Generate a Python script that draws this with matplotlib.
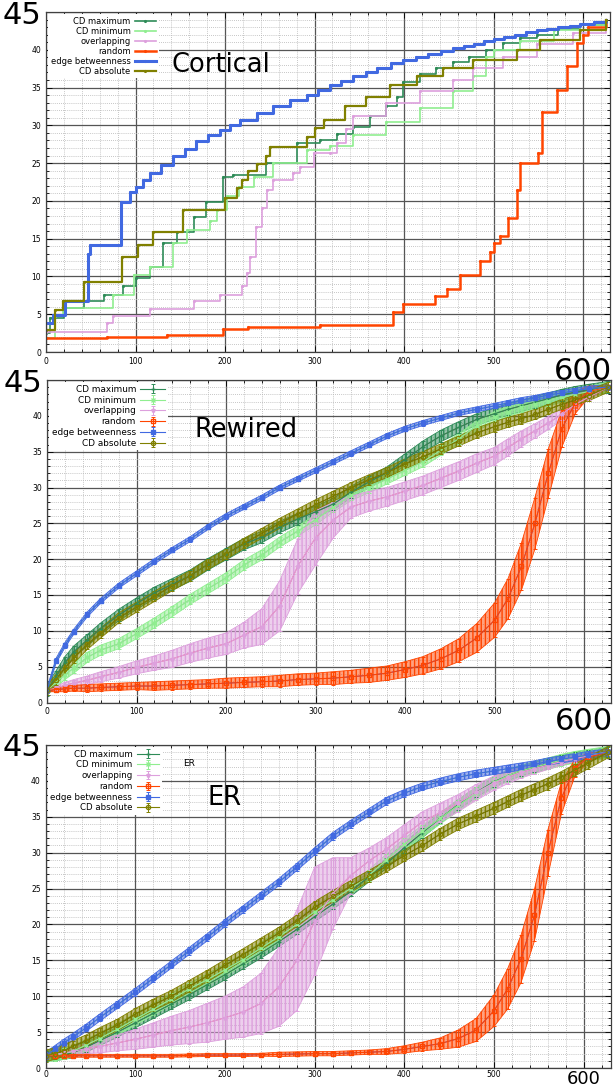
import numpy as np
import matplotlib
matplotlib.use("Agg")
import matplotlib.pyplot as plt
from matplotlib.ticker import MultipleLocator

plt.rcParams['font.family'] = ['DejaVu Sans']

labels = ['CD maximum', 'CD minimum', 'overlapping', 'random', 'edge betweenness', 'CD absolute']
colors = ['#2e8b57', '#90ee90', '#dda0dd', '#ff4500', '#4169e1', '#808000']
inner_colors = ['#8b3a3a', '#a0a0a0', '#ff3050', '#3040ff', '#40c080', '#202000']
markers = ['+', 'x', '*', 's', 's', 'o']
marker_faces = [None, None, None, 'none', '#4169e1', 'none']

# ---------------- Cortical (step curves) ----------------
cort_max_x = [0, 5, 20, 42, 65, 86, 101, 116, 131, 146, 165, 179, 198, 209, 246, 280, 306, 325, 343, 362, 380, 392, 399, 418, 436, 455, 473, 492, 511, 529, 548, 572, 597, 626]
cort_max_y = [2.5, 4.5, 5.8, 6.7, 7.5, 8.7, 9.8, 11.3, 14.4, 15.9, 17.9, 19.9, 23.2, 23.4, 25.0, 27.6, 28.0, 28.9, 29.8, 31.2, 32.5, 33.8, 35.8, 36.8, 37.6, 38.4, 39.1, 40.0, 40.9, 41.5, 42.0, 42.7, 43.3, 44.0]
cort_min_x = [0, 10, 19, 75, 98, 116, 142, 157, 183, 191, 202, 216, 232, 254, 291, 317, 343, 380, 418, 455, 477, 492, 500, 529, 567, 597, 626]
cort_min_y = [1.8, 4.7, 5.8, 7.5, 10.2, 11.3, 14.4, 16.2, 17.3, 18.8, 20.6, 21.8, 23.2, 25.0, 26.8, 27.2, 28.7, 30.5, 32.3, 34.5, 36.5, 39.1, 40.0, 41.1, 42.6, 43.3, 44.0]
cort_ovl_x = [0, 68, 75, 116, 165, 194, 219, 224, 228, 235, 241, 247, 254, 276, 284, 299, 317, 325, 335, 343, 380, 418, 455, 477, 511, 548, 589, 626]
cort_ovl_y = [2.7, 3.8, 4.8, 5.7, 6.7, 7.5, 8.7, 10.5, 12.6, 16.6, 19.0, 21.5, 22.8, 23.7, 24.5, 26.3, 26.3, 27.6, 29.5, 31.2, 32.9, 34.5, 36.0, 37.6, 39.1, 40.7, 42.2, 44.0]
cort_rnd_x = [0, 68, 135, 198, 226, 306, 388, 399, 434, 448, 463, 485, 496, 500, 507, 516, 526, 529, 550, 554, 571, 582, 593, 600, 605, 626]
cort_rnd_y = [1.8, 2.0, 2.2, 3.0, 3.3, 3.6, 5.3, 6.4, 7.4, 8.4, 10.2, 12.0, 13.3, 14.4, 15.3, 17.7, 21.5, 25.0, 26.4, 31.8, 34.7, 37.8, 40.9, 42.0, 43.0, 44.0]
cort_eb_x = [0, 8, 21, 47, 49, 84, 94, 101, 108, 116, 129, 142, 155, 168, 181, 194, 205, 217, 236, 254, 272, 291, 304, 317, 330, 343, 357, 370, 385, 399, 413, 427, 441, 455, 467, 478, 489, 500, 512, 524, 536, 548, 560, 572, 585, 597, 612, 626]
cort_eb_y = [3.8, 4.9, 6.7, 13.0, 14.2, 19.8, 21.2, 21.9, 22.8, 23.7, 24.8, 25.9, 26.9, 27.9, 28.7, 29.4, 30.1, 30.7, 31.6, 32.5, 33.3, 34.0, 34.7, 35.3, 35.9, 36.5, 37.0, 37.6, 38.2, 38.7, 39.1, 39.5, 39.9, 40.2, 40.5, 40.8, 41.1, 41.4, 41.7, 42.0, 42.3, 42.6, 42.8, 43.0, 43.2, 43.4, 43.7, 44.0]
cort_abs_x = [0, 10, 19, 42, 85, 103, 120, 153, 200, 213, 219, 226, 236, 246, 250, 291, 300, 310, 334, 358, 384, 414, 444, 477, 526, 552, 597, 626]
cort_abs_y = [2.9, 5.6, 6.7, 9.2, 12.6, 14.2, 15.9, 18.8, 20.4, 21.7, 22.8, 24.0, 24.9, 25.9, 27.1, 28.5, 29.6, 30.7, 32.5, 33.8, 35.4, 36.5, 37.6, 38.7, 40.0, 41.3, 42.6, 44.0]

# ---------------- shared sample positions for Rewired / ER ----------------
xg = [0, 10, 20, 30, 45, 60, 80, 100, 120, 140, 160, 180, 200, 220, 240, 260, 280, 300, 320, 340, 360, 380, 400, 420, 440, 460, 480, 500, 515, 530, 545, 560, 575, 590, 605, 627]

# ---------------- Rewired ----------------
rew_max = [1.7, 3.6, 5.6, 7.1, 8.7, 10.3, 12.2, 13.8, 15.3, 16.5, 17.7, 19.3, 20.7, 22.1, 23.1, 24.5, 25.6, 26.6, 27.7, 29.4, 30.8, 32.1, 33.9, 35.7, 37.2, 38.4, 39.5, 40.3, 40.9, 41.4, 41.9, 42.4, 42.9, 43.3, 43.6, 44.0]
rew_min = [1.7, 2.8, 3.9, 4.8, 6.3, 7.3, 8.2, 9.6, 11.1, 12.7, 14.4, 15.9, 17.4, 19.2, 20.6, 22.4, 23.9, 25.5, 27.3, 28.9, 30.0, 31.2, 32.4, 33.6, 35.2, 36.8, 38.6, 39.9, 40.6, 41.2, 41.7, 42.1, 42.6, 43.0, 43.4, 44.0]
rew_ovl = [1.7, 2.0, 2.4, 2.7, 3.1, 3.6, 4.2, 4.9, 5.5, 6.1, 6.9, 7.6, 8.2, 9.4, 10.6, 13.5, 19.0, 23.0, 25.5, 27.3, 28.1, 28.7, 29.5, 30.3, 31.3, 32.3, 33.4, 34.4, 35.6, 36.8, 37.9, 39.0, 40.2, 41.6, 42.6, 44.0]
rew_rnd = [1.7, 1.8, 1.9, 2.0, 2.0, 2.1, 2.2, 2.3, 2.3, 2.4, 2.5, 2.6, 2.7, 2.8, 2.9, 3.0, 3.2, 3.3, 3.4, 3.6, 3.8, 4.1, 4.6, 5.2, 6.1, 7.3, 9.0, 11.5, 14.5, 19.0, 25.0, 32.0, 38.2, 41.8, 43.4, 44.0]
rew_eb = [1.7, 5.8, 8.0, 9.9, 12.3, 14.2, 16.3, 18.0, 19.7, 21.3, 22.8, 24.5, 26.0, 27.3, 28.6, 30.0, 31.2, 32.4, 33.6, 34.8, 36.0, 37.2, 38.2, 39.0, 39.7, 40.4, 40.9, 41.4, 41.8, 42.2, 42.5, 42.9, 43.2, 43.5, 43.8, 44.0]
rew_abs = [1.7, 3.2, 4.8, 6.2, 8.1, 9.7, 11.8, 13.3, 14.8, 16.3, 17.7, 19.3, 20.7, 22.2, 23.6, 25.0, 26.3, 27.6, 28.8, 30.0, 31.1, 32.1, 33.3, 34.3, 35.4, 36.5, 37.6, 38.5, 39.1, 39.6, 40.2, 40.9, 41.6, 42.2, 42.8, 44.0]
rew_max_err = 0.8
rew_min_err = 0.7
rew_ovl_err = [0.2, 0.3, 0.4, 0.5, 0.6, 0.7, 0.8, 0.9, 1.0, 1.2, 1.3, 1.4, 1.5, 1.8, 2.5, 3.5, 3.8, 3.8, 2.5, 1.5, 1.4, 1.3, 1.3, 1.3, 1.3, 1.3, 1.3, 1.2, 1.2, 1.1, 1.0, 0.9, 0.8, 0.6, 0.4, 0.1]
rew_rnd_err = [0.2, 0.3, 0.4, 0.4, 0.5, 0.5, 0.5, 0.5, 0.6, 0.6, 0.6, 0.6, 0.7, 0.7, 0.7, 0.8, 0.8, 0.8, 0.9, 0.9, 1.0, 1.0, 1.1, 1.2, 1.4, 1.6, 2.0, 2.4, 2.8, 3.3, 3.6, 3.4, 2.6, 1.5, 0.8, 0.1]
rew_eb_err = 0.35
rew_abs_err = 0.7

# ---------------- ER ----------------
er_max = [1.7, 1.7, 1.9, 2.1, 2.9, 3.8, 5.0, 6.3, 7.6, 8.9, 10.2, 11.6, 13.0, 14.5, 16.0, 17.6, 19.3, 21.1, 22.8, 24.6, 26.6, 28.5, 30.7, 32.8, 34.8, 36.7, 38.4, 39.9, 40.7, 41.4, 41.9, 42.4, 42.9, 43.3, 43.6, 44.0]
er_min = [1.7, 1.8, 2.0, 2.3, 3.2, 4.1, 5.4, 6.8, 8.2, 9.6, 11.0, 12.3, 13.7, 15.1, 16.7, 18.3, 20.0, 21.8, 23.4, 25.0, 26.8, 29.0, 31.2, 33.0, 34.8, 36.6, 38.3, 39.8, 40.7, 41.4, 41.9, 42.4, 42.9, 43.3, 43.6, 44.0]
er_ovl = [1.7, 1.9, 2.1, 2.3, 2.7, 3.0, 3.5, 4.0, 4.6, 5.2, 5.7, 6.3, 7.0, 7.8, 9.0, 11.3, 15.0, 20.5, 24.3, 26.8, 28.8, 30.5, 32.4, 34.3, 35.6, 36.9, 38.4, 39.7, 40.5, 41.2, 41.7, 42.2, 42.7, 43.1, 43.5, 44.0]
er_rnd = [1.7, 1.7, 1.7, 1.7, 1.7, 1.7, 1.7, 1.7, 1.7, 1.7, 1.75, 1.8, 1.8, 1.8, 1.85, 1.9, 1.95, 2.0, 2.0, 2.1, 2.2, 2.3, 2.6, 3.0, 3.4, 4.1, 5.3, 8.0, 11.0, 15.2, 21.3, 30.0, 37.6, 41.8, 43.3, 44.0]
er_eb = [1.7, 2.6, 3.5, 4.3, 5.6, 7.0, 8.8, 10.6, 12.5, 14.4, 16.3, 18.2, 20.2, 22.1, 24.0, 25.9, 28.0, 30.2, 32.3, 34.0, 35.6, 37.2, 38.3, 39.2, 39.9, 40.5, 41.0, 41.4, 41.7, 42.0, 42.3, 42.7, 43.0, 43.3, 43.6, 44.0]
er_abs = [1.7, 2.0, 2.4, 3.0, 3.8, 4.8, 6.0, 7.5, 8.8, 10.0, 11.4, 12.8, 14.3, 15.8, 17.3, 18.8, 20.5, 22.4, 23.9, 25.3, 26.7, 28.1, 29.6, 31.0, 32.6, 34.0, 35.1, 36.2, 37.1, 38.0, 38.8, 39.6, 40.5, 41.5, 42.5, 44.0]
er_max_err = 0.7
er_min_err = 0.8
er_ovl_err = [0.1, 0.2, 0.3, 0.5, 0.7, 0.9, 1.1, 1.4, 1.7, 2.0, 2.3, 2.7, 3.0, 3.5, 4.2, 5.5, 7.0, 7.5, 5.0, 2.5, 1.8, 1.6, 1.5, 1.4, 1.3, 1.2, 1.1, 1.0, 0.9, 0.8, 0.7, 0.6, 0.5, 0.4, 0.3, 0.1]
er_rnd_err = [0.1, 0.2, 0.2, 0.2, 0.2, 0.2, 0.2, 0.2, 0.2, 0.2, 0.2, 0.2, 0.2, 0.2, 0.2, 0.3, 0.3, 0.3, 0.3, 0.3, 0.3, 0.4, 0.5, 0.6, 0.8, 1.2, 1.6, 2.2, 2.8, 3.3, 3.6, 3.2, 2.2, 1.2, 0.6, 0.1]
er_eb_err = 0.5
er_abs_err = 0.8

x_ticks = [0, 100, 200, 300, 400, 500, 600]
x_tick_labels = ['0', '100', '200', '300', '400', '500', '600']
y_ticks = [0, 5, 10, 15, 20, 25, 30, 35, 40, 45]
y_tick_labels = ['0', '5', '10', '15', '20', '25', '30', '35', '40', '45']

W, H = 614, 1088
fig = plt.figure(figsize=(W / 100, H / 100), dpi=100)
ax1 = fig.add_axes([46 / W, 1 - 352 / H, 564 / W, 340 / H])
ax2 = fig.add_axes([47 / W, 1 - 702.5 / H, 564 / W, 322.5 / H])
ax3 = fig.add_axes([45.7 / W, 1 - 1068 / H, 565 / W, 323 / H])


def style(ax, big_x=22):
    ax.set_xlim(0, 630)
    ax.set_ylim(0, 45)
    ax.set_xticks(x_ticks)
    ax.set_xticklabels(x_tick_labels)
    ax.set_yticks(y_ticks)
    ax.set_yticklabels(y_tick_labels)
    ax.xaxis.set_minor_locator(MultipleLocator(20))
    ax.yaxis.set_minor_locator(MultipleLocator(1))
    ax.tick_params(which='both', direction='in', top=True, right=True, labelsize=5.5, width=0.6)
    ax.tick_params(which='major', length=4)
    ax.tick_params(which='minor', length=2)
    ax.grid(which='major', color='#555555', lw=0.9, ls='-')
    ax.grid(which='minor', color='#b4b4b4', lw=0.6, ls=(0, (1, 1.5)))
    ax.set_axisbelow(True)
    ax.get_xticklabels()[-1].set_fontsize(big_x)
    ax.get_yticklabels()[-1].set_fontsize(22)
    for s in ax.spines.values():
        s.set_color('#404040')
        s.set_linewidth(0.9)


style(ax1)
style(ax2)
style(ax3, big_x=13)
ax3.tick_params(axis='x', which='major', pad=1.5)

# ---- Cortical ----
cort = [(cort_max_x, cort_max_y), (cort_min_x, cort_min_y), (cort_ovl_x, cort_ovl_y),
        (cort_rnd_x, cort_rnd_y), (cort_eb_x, cort_eb_y), (cort_abs_x, cort_abs_y)]
lws = [1.2, 1.2, 1.2, 1.8, 2.2, 1.6]
handles = []
for (x, y), c, lw, lab in zip(cort, colors, lws, labels):
    h, = ax1.plot(x, y, drawstyle='steps-post', color=c, lw=lw, marker='.', ms=2.5,
                  label=lab)
    handles.append(h)
ax1.legend(handles=handles, loc='upper left', markerfirst=False, fontsize=6,
           frameon=True, facecolor='white', edgecolor='none', framealpha=1, fancybox=False,
           handlelength=2.6, labelspacing=0.12, borderaxespad=0.25, borderpad=0.3,
           handletextpad=0.5)
ax1.text(0.223, 0.845, 'Cortical', transform=ax1.transAxes, fontsize=18.5,
         ha='left', va='center')


def band_panel(ax, series, errs):
    hs = []
    for y, e, c, ic, m, mf, lab in zip(series, errs, colors, inner_colors, markers,
                                       marker_faces, labels):
        x = np.asarray(xg, float)
        y = np.asarray(y, float)
        e = np.broadcast_to(np.asarray(e, float), y.shape)
        ax.fill_between(x, y - e, y + e, facecolor=c, alpha=0.5, lw=0)
        ax.fill_between(x, y - e, y + e, facecolor='none', edgecolor=c, hatch='||||',
                        lw=0.6)
        kw = dict(color=c, lw=0.8, marker=m, ms=3, capsize=1.5, elinewidth=0.7,
                  capthick=0.7, label=lab)
        if mf is not None:
            kw['mfc'] = mf
        h = ax.errorbar(x, y, yerr=e, **kw)
        ax.plot(x, y, color=ic, lw=0.5)
        hs.append(h)
    return hs


h2 = band_panel(ax2, [rew_max, rew_min, rew_ovl, rew_rnd, rew_eb, rew_abs],
                [rew_max_err, rew_min_err, rew_ovl_err, rew_rnd_err, rew_eb_err, rew_abs_err])
ax2.legend(handles=h2, loc='upper left', markerfirst=False, fontsize=6.4,
           frameon=True, facecolor='white', edgecolor='none', framealpha=1, fancybox=False,
           handlelength=2.8, labelspacing=0.2, borderaxespad=0.25, borderpad=0.3,
           handletextpad=0.5)
ax2.text(0.262, 0.845, 'Rewired', transform=ax2.transAxes, fontsize=18.5,
         ha='left', va='center')

h3 = band_panel(ax3, [er_max, er_min, er_ovl, er_rnd, er_eb, er_abs],
                [er_max_err, er_min_err, er_ovl_err, er_rnd_err, er_eb_err, er_abs_err])
ax3.legend(handles=h3, loc='upper left', markerfirst=False, fontsize=6.2,
           frameon=True, facecolor='white', edgecolor='none', framealpha=1, fancybox=False,
           handlelength=2.6, labelspacing=0.2, borderaxespad=0.25, borderpad=0.3,
           handletextpad=0.5)
ax3.text(0.287, 0.836, 'ER', transform=ax3.transAxes, fontsize=18.5,
         ha='left', va='center')
ax3.text(0.243, 0.944, 'ER', transform=ax3.transAxes, fontsize=6.5,
         ha='left', va='center')

fig.savefig('out.png', dpi=100)
